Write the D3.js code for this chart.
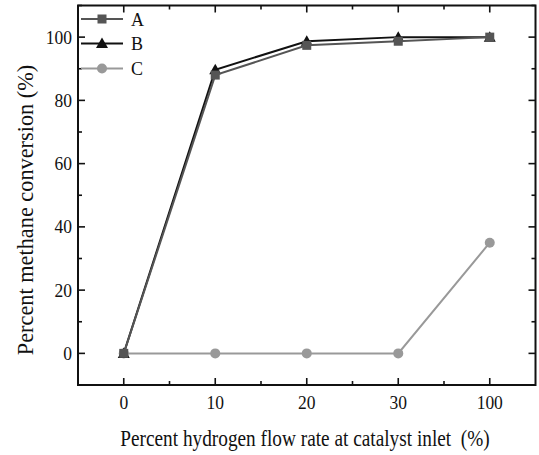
<!DOCTYPE html>
<html>
<head>
<meta charset="utf-8">
<script src="https://cdn.jsdelivr.net/npm/d3@7"></script>
<style>
  body { margin: 0; background: #fff; }
</style>
</head>
<body>
<svg id="chart" width="539" height="455"></svg>
<script>
    // data
    var categories = ['0', '10', '20', '30', '100'];
    var seriesA = [0, 88, 97.4, 98.7, 100];
    var seriesB = [0, 89.7, 98.7, 100, 100];
    var seriesC = [0, 0, 0, 0, 35];
    var yTicks = [0, 20, 40, 60, 80, 100];
    var yMinor = [-10, 10, 30, 50, 70, 90, 110];

(function() {
    'use strict';

    var series = [
        { name: 'A', values: seriesA, color: '#555', marker: 'square' },
        { name: 'B', values: seriesB, color: '#111', marker: 'triangle' },
        { name: 'C', values: seriesC, color: '#999', marker: 'circle' }
    ];

    var left = 78, right = 535.5, top = 5.5, bottom = 385;
    var font = "'Liberation Serif', 'DejaVu Serif', serif";

    var chart = d3.select('#chart')
        .style('font-family', font);

    var x = d3.scalePoint().domain(categories).range([left, right]).padding(0.5);
    var y = d3.scaleLinear().domain([-10, 110]).range([bottom, top]);
    var step = x.step();

    // minor x positions halfway between categories
    var xMinor = categories.slice(1).map(function(c, i) { return x(categories[i]) + step / 2; });

    // frame
    chart.append('rect')
        .attr('x', left).attr('y', top)
        .attr('width', right - left).attr('height', bottom - top)
        .attr('fill', 'none').attr('stroke', '#111').attr('stroke-width', 2);

    var ticks = chart.append('g').attr('stroke', '#111').attr('stroke-width', 1.6);
    categories.forEach(function(c) {
        ticks.append('line').attr('x1', x(c)).attr('x2', x(c)).attr('y1', bottom).attr('y2', bottom - 7);
        ticks.append('line').attr('x1', x(c)).attr('x2', x(c)).attr('y1', top).attr('y2', top + 7);
    });
    xMinor.forEach(function(v) {
        ticks.append('line').attr('x1', v).attr('x2', v).attr('y1', bottom).attr('y2', bottom - 4);
        ticks.append('line').attr('x1', v).attr('x2', v).attr('y1', top).attr('y2', top + 4);
    });
    yTicks.forEach(function(v) {
        ticks.append('line').attr('x1', left).attr('x2', left + 7).attr('y1', y(v)).attr('y2', y(v));
        ticks.append('line').attr('x1', right).attr('x2', right - 7).attr('y1', y(v)).attr('y2', y(v));
    });
    yMinor.forEach(function(v) {
        ticks.append('line').attr('x1', left).attr('x2', left + 4).attr('y1', y(v)).attr('y2', y(v));
        ticks.append('line').attr('x1', right).attr('x2', right - 4).attr('y1', y(v)).attr('y2', y(v));
    });

    function label(sel, size) {
        return sel.attr('font-family', font).attr('fill', '#111').style('font-size', size + 'px');
    }

    // tick labels (the original face is a bit taller than Liberation Serif)
    label(chart.selectAll('.xlab').data(categories).enter().append('text'), 17.5)
        .attr('transform', function(d) { return 'translate(' + x(d) + ',409) scale(1,1.1)'; })
        .attr('text-anchor', 'middle')
        .text(function(d) { return d; });

    label(chart.selectAll('.ylab').data(yTicks).enter().append('text'), 17.5)
        .attr('transform', function(d) { return 'translate(72,' + (y(d) + 6.5) + ') scale(1,1.1)'; })
        .attr('text-anchor', 'end')
        .text(function(d) { return d; });

    // axis titles
    label(chart.append('text'), 19.3)
        .attr('transform', 'translate(305,446) scale(1,1.15)')
        .attr('text-anchor', 'middle')
        .attr('xml:space', 'preserve')
        .text('Percent hydrogen flow rate at catalyst inlet  (%)');

    label(chart.append('text'), 22.3)
        .attr('transform', 'translate(32.5,210) rotate(-90) scale(1,1.05)')
        .attr('text-anchor', 'middle')
        .text('Percent methane conversion (%)');

    function drawMarker(g, type, cx, cy, color) {
        if (type === 'square') {
            g.append('rect').attr('x', cx - 4.5).attr('y', cy - 4.5).attr('width', 9).attr('height', 9).attr('fill', color);
        } else if (type === 'triangle') {
            g.append('path')
                .attr('d', 'M' + cx + ',' + (cy - 6) + 'L' + (cx + 6) + ',' + (cy + 4.5) + 'L' + (cx - 6) + ',' + (cy + 4.5) + 'Z')
                .attr('fill', color);
        } else {
            g.append('circle').attr('cx', cx).attr('cy', cy).attr('r', 5).attr('fill', color);
        }
    }

    var line = d3.line()
        .x(function(d, i) { return x(categories[i]); })
        .y(function(d) { return y(d); });

    // C first so A/B sit on top
    series.slice().reverse().forEach(function(s) {
        var g = chart.append('g');
        g.append('path')
            .attr('d', line(s.values))
            .attr('fill', 'none')
            .attr('stroke', s.color)
            .attr('stroke-width', 2);
        s.values.forEach(function(v, i) {
            drawMarker(g, s.marker, x(categories[i]), y(v), s.color);
        });
    });

    // legend
    var legendY = [19, 43.5, 68.5];
    series.forEach(function(s, i) {
        var g = chart.append('g');
        g.append('line')
            .attr('x1', 81).attr('x2', 123)
            .attr('y1', legendY[i]).attr('y2', legendY[i])
            .attr('stroke', s.color).attr('stroke-width', 2);
        drawMarker(g, s.marker, 102, legendY[i], s.color);
        label(g.append('text'), 18)
            .attr('x', 131).attr('y', legendY[i] + 6.5)
            .text(s.name);
    });
})();
</script>
</body>
</html>
